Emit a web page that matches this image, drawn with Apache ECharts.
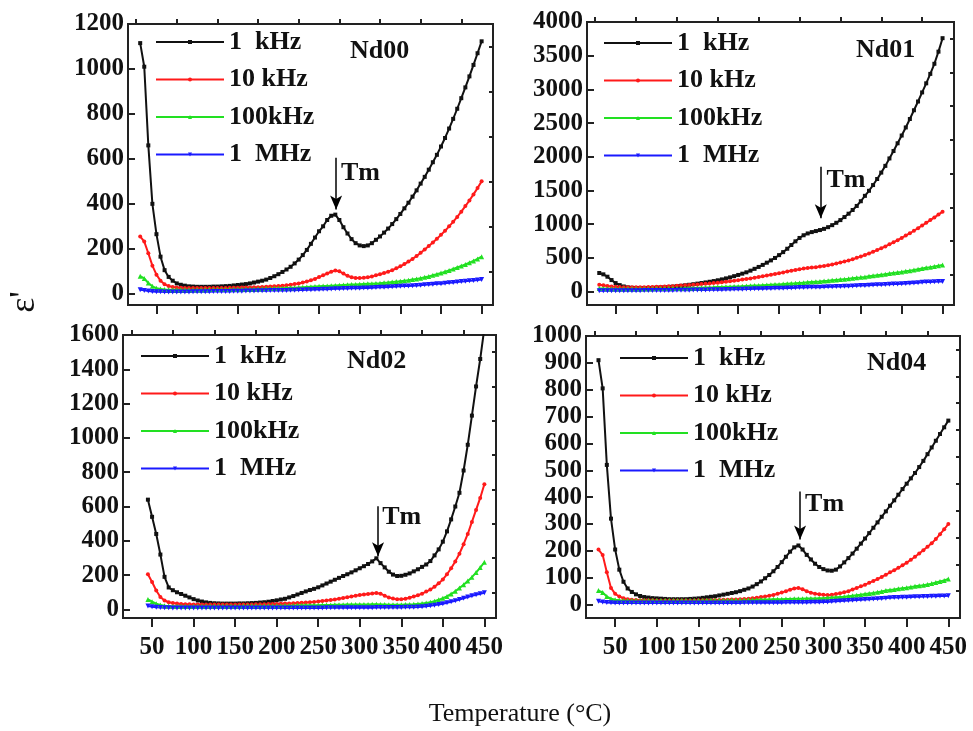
<!DOCTYPE html>
<html>
<head>
<meta charset="utf-8">
<script src="https://cdn.jsdelivr.net/npm/echarts@6/dist/echarts.min.js"></script>
<style>
  html, body { margin: 0; padding: 0; background: #fff; }
  #chart { width: 973px; height: 731px; }
</style>
</head>
<body>
<div id="chart"></div>
<script>
// Measurement temperatures (°C), shared by all four samples
const temps = [
  30, 35, 40, 45, 50, 55, 60, 65, 70, 75,
  80, 85, 90, 95, 100, 105, 110, 115, 120, 125,
  130, 135, 140, 145, 150, 155, 160, 165, 170, 175,
  180, 185, 190, 195, 200, 205, 210, 215, 220, 225,
  230, 235, 240, 245, 250, 255, 260, 265, 270, 275,
  280, 285, 290, 295, 300, 305, 310, 315, 320, 325,
  330, 335, 340, 345, 350, 355, 360, 365, 370, 375,
  380, 385, 390, 395, 400, 405, 410, 415, 420, 425,
  430, 435, 440, 445, 450
];

const frequencies = ['1  kHz', '10 kHz', '100kHz', '1  MHz'];

// Nd00
const nd00_1k = [
  1115, 1010, 660, 400, 265, 165, 105, 75, 58, 46,
  40, 36, 33, 32, 31, 31, 31, 31, 32, 32,
  33, 34, 35, 37, 39, 41, 43, 46, 50, 54,
  58, 63, 70, 78, 87, 97, 108, 120, 135, 152,
  172, 195, 222, 250, 278, 300, 328, 347, 352, 328,
  296, 268, 243, 225, 215, 212, 215, 225, 240, 255,
  272, 290, 310, 332, 355, 380, 405, 432, 460, 490,
  520, 552, 585, 618, 655, 693, 735, 778, 823, 870,
  918, 967, 1018, 1070, 1123
];
const nd00_10k = [
  255, 232, 180, 125, 85, 58, 42, 34, 30, 28,
  27, 26, 26, 26, 26, 26, 26, 26, 26, 26,
  26, 26, 27, 27, 27, 28, 28, 28, 29, 29,
  30, 31, 32, 33, 34, 36, 38, 40, 43, 46,
  50, 55, 60, 66, 74, 82, 90, 98, 103, 100,
  90, 80, 73, 70, 70, 71, 73, 77, 82, 87,
  92, 98, 105, 113, 122, 132, 143, 155, 168, 182,
  197, 212, 228, 245, 262, 280, 300, 320, 342, 365,
  390, 415, 442, 470, 500
];
const nd00_100k = [
  78, 68, 48, 33, 25, 21, 19, 18, 18, 18,
  18, 18, 18, 18, 18, 18, 18, 19, 19, 19,
  19, 19, 20, 20, 20, 20, 21, 21, 21, 22,
  22, 23, 23, 24, 25, 25, 26, 27, 27, 28,
  29, 30, 31, 32, 33, 34, 35, 36, 37, 38,
  39, 40, 41, 41, 42, 43, 44, 45, 46, 47,
  49, 50, 52, 54, 56, 58, 60, 63, 66, 69,
  73, 77, 82, 87, 92, 98, 104, 110, 117, 124,
  130, 138, 146, 155, 165
];
const nd00_1M = [
  18, 15, 12, 10, 9, 9, 8, 8, 8, 8,
  8, 8, 8, 9, 9, 9, 9, 9, 10, 10,
  10, 10, 10, 11, 11, 11, 12, 12, 12, 13,
  13, 13, 14, 14, 14, 15, 15, 16, 16, 17,
  17, 18, 18, 19, 19, 20, 20, 21, 22, 22,
  23, 23, 24, 24, 25, 26, 26, 27, 28, 29,
  29, 30, 31, 32, 33, 34, 35, 36, 37, 38,
  40, 41, 42, 44, 45, 47, 49, 50, 52, 54,
  56, 58, 59, 61, 63
];

// Nd01
const nd01_1k = [
  275, 255, 220, 170, 125, 95, 75, 62, 55, 52,
  50, 50, 52, 54, 57, 60, 64, 68, 73, 79,
  85, 92, 100, 108, 117, 126, 135, 145, 155, 167,
  180, 195, 210, 228, 246, 265, 285, 310, 337, 365,
  395, 428, 462, 498, 540, 585, 635, 690, 745, 795,
  835, 862, 882, 897, 912, 930, 955, 985, 1020, 1060,
  1105, 1155, 1210, 1270, 1340, 1420, 1495, 1580, 1670, 1765,
  1865, 1975, 2085, 2200, 2315, 2435, 2560, 2690, 2820, 2955,
  3090, 3230, 3380, 3560, 3760
];
const nd01_10k = [
  100, 92, 82, 75, 70, 66, 64, 62, 62, 62,
  63, 64, 66, 68, 70, 72, 75, 77, 80, 84,
  88, 92, 96, 100, 105, 110, 115, 120, 125, 131,
  138, 145, 152, 160, 168, 177, 186, 195, 205, 215,
  226, 237, 248, 260, 272, 284, 296, 308, 320, 330,
  340, 348, 355, 362, 370, 380, 390, 402, 415, 430,
  445, 462, 480, 500, 520, 542, 565, 590, 615, 642,
  670, 700, 730, 762, 795, 830, 865, 902, 940, 980,
  1020, 1060, 1100, 1142, 1185
];
const nd01_100k = [
  45, 44, 42, 41, 40, 40, 40, 40, 40, 41,
  41, 42, 42, 43, 44, 45, 46, 47, 48, 49,
  50, 51, 52, 54, 55, 57, 59, 61, 63, 66,
  68, 70, 72, 74, 76, 79, 82, 85, 88, 91,
  94, 97, 100, 103, 106, 110, 114, 118, 122, 127,
  132, 137, 142, 146, 150, 155, 160, 166, 172, 178,
  184, 190, 197, 204, 210, 217, 225, 233, 241, 250,
  258, 266, 275, 283, 290, 300, 310, 320, 330, 341,
  352, 362, 373, 384, 395
];
const nd01_1M = [
  12, 12, 12, 12, 12, 12, 13, 13, 13, 13,
  13, 14, 14, 14, 15, 15, 16, 16, 17, 18,
  18, 19, 20, 21, 22, 23, 24, 25, 26, 27,
  28, 29, 31, 32, 33, 35, 36, 38, 40, 42,
  43, 45, 46, 47, 48, 50, 52, 54, 56, 58,
  60, 62, 63, 64, 65, 67, 69, 71, 73, 75,
  77, 80, 82, 85, 88, 90, 93, 96, 99, 102,
  104, 107, 110, 113, 116, 120, 124, 128, 132, 136,
  140, 143, 146, 148, 150
];

// Nd02 (measured from 45 °C)
const nd02_1k = [
  null, null, null, 640, 540, 440, 320, 190, 128, 112,
  100, 90, 80, 70, 60, 52, 46, 41, 38, 36,
  35, 34, 34, 34, 34, 35, 35, 36, 37, 38,
  40, 42, 45, 49, 53, 58, 62, 70, 78, 87,
  96, 105, 113, 120, 129, 140, 151, 162, 173, 184,
  195, 205, 216, 228, 240, 252, 265, 280, 298, 270,
  245, 220, 203, 195, 196, 202, 210, 222, 234, 248,
  262, 282, 315, 350, 395, 455, 525, 600, 680, 810,
  960, 1130, 1300, 1460, 1640
];
const nd02_10k = [
  null, null, null, 205, 160, 110, 72, 52, 42, 37,
  34, 32, 30, 30, 29, 29, 28, 28, 28, 28,
  28, 28, 28, 28, 28, 28, 29, 29, 29, 30,
  30, 30, 31, 31, 32, 33, 34, 35, 36, 38,
  39, 40, 42, 44, 46, 49, 52, 55, 58, 62,
  66, 71, 76, 80, 84, 87, 90, 93, 96, 92,
  80, 70, 63, 60, 59, 62, 68, 75, 83, 92,
  104, 116, 132, 152, 175, 205, 240, 280, 325, 380,
  440, 510, 580, 650, 730
];
const nd02_100k = [
  null, null, null, 58, 45, 33, 26, 22, 20, 19,
  19, 19, 19, 19, 19, 19, 19, 20, 20, 20,
  20, 20, 20, 20, 20, 20, 21, 21, 21, 21,
  21, 22, 22, 22, 22, 22, 23, 23, 23, 24,
  24, 24, 25, 25, 25, 26, 26, 26, 27, 27,
  27, 28, 28, 28, 28, 29, 29, 30, 30, 29,
  28, 27, 27, 27, 27, 28, 29, 30, 32, 34,
  38, 42, 48, 56, 65, 76, 90, 106, 125, 144,
  165, 188, 215, 244, 275
];
const nd02_1M = [
  null, null, null, 20, 16, 13, 11, 10, 10, 9,
  9, 9, 9, 9, 9, 9, 9, 9, 9, 9,
  9, 9, 9, 9, 9, 9, 9, 9, 9, 9,
  9, 9, 9, 9, 9, 9, 9, 9, 9, 9,
  9, 9, 9, 9, 9, 9, 10, 10, 10, 10,
  10, 10, 10, 10, 10, 10, 10, 10, 11, 11,
  11, 11, 11, 11, 11, 12, 12, 13, 14, 16,
  18, 21, 25, 29, 33, 39, 45, 51, 58, 65,
  72, 79, 85, 91, 97
];

// Nd04
const nd04_1k = [
  910, 805, 520, 320, 205, 130, 85, 60, 47, 38,
  32, 28, 26, 24, 23, 22, 21, 20, 20, 20,
  20, 20, 21, 22, 23, 25, 27, 29, 31, 34,
  37, 40, 43, 46, 50, 55, 60, 67, 76, 86,
  98, 110, 124, 140, 158, 178, 197, 213, 220, 205,
  185, 168, 152, 140, 132, 127, 126, 130, 142, 157,
  173, 190, 208, 227, 246, 266, 286, 306, 327, 347,
  368, 388, 409, 430, 450, 470, 490, 512, 535, 560,
  585, 610, 635, 660, 685
];
const nd04_10k = [
  205, 185, 120, 62, 40, 30, 24, 20, 18, 17,
  16, 16, 16, 16, 15, 15, 15, 15, 15, 15,
  15, 15, 15, 15, 16, 16, 16, 16, 17, 17,
  18, 18, 19, 19, 20, 21, 22, 24, 25, 28,
  30, 33, 36, 40, 45, 50, 55, 60, 62, 57,
  50, 44, 40, 38, 37, 36, 37, 39, 42, 46,
  50, 56, 62, 68, 74, 81, 88, 95, 103, 111,
  120, 128, 137, 146, 156, 167, 178, 190, 202, 215,
  228, 244, 262, 280, 300
];
const nd04_100k = [
  52, 45, 30, 22, 18, 16, 15, 15, 15, 15,
  15, 15, 15, 15, 15, 15, 15, 15, 15, 15,
  15, 15, 15, 15, 15, 15, 16, 16, 16, 16,
  16, 16, 17, 17, 17, 17, 18, 18, 18, 19,
  19, 19, 20, 20, 20, 21, 21, 22, 22, 22,
  23, 23, 23, 24, 24, 25, 26, 27, 28, 29,
  31, 33, 35, 37, 39, 41, 43, 46, 49, 52,
  54, 56, 59, 61, 63, 65, 68, 70, 72, 75,
  78, 82, 86, 90, 95
];
const nd04_1M = [
  12, 10, 8, 7, 6, 6, 6, 6, 6, 6,
  6, 6, 6, 6, 6, 6, 6, 6, 6, 6,
  6, 6, 6, 6, 6, 6, 6, 6, 6, 6,
  6, 6, 6, 6, 6, 7, 7, 7, 7, 7,
  7, 7, 7, 7, 7, 8, 8, 8, 8, 8,
  8, 9, 9, 9, 10, 10, 11, 12, 13, 14,
  15, 16, 17, 18, 19, 20, 21, 22, 23, 24,
  25, 26, 26, 27, 27, 28, 29, 29, 30, 30,
  31, 31, 32, 32, 33
];

// Axis tick values
const xMajorTicks = [50, 100, 150, 200, 250, 300, 350, 400, 450];
const xMinorTicks = [25, 75, 125, 175, 225, 275, 325, 375, 425];
const yTicks00 = [0, 200, 400, 600, 800, 1000, 1200];
const yMinor00 = [100, 300, 500, 700, 900, 1100];
const yTicks01 = [0, 500, 1000, 1500, 2000, 2500, 3000, 3500, 4000];
const yMinor01 = [250, 750, 1250, 1750, 2250, 2750, 3250, 3750];
const yTicks02 = [0, 200, 400, 600, 800, 1000, 1200, 1400, 1600];
const yMinor02 = [100, 300, 500, 700, 900, 1100, 1300, 1500];
const yTicks04 = [0, 100, 200, 300, 400, 500, 600, 700, 800, 900, 1000];
const yMinor04 = [50, 150, 250, 350, 450, 550, 650, 750, 850, 950];

// Sample names and Tm arrow (temperature, arrow top, arrow tip)
const sampleNames = ['Nd00', 'Nd01', 'Nd02', 'Nd04'];
const tmMarks = [
  { t: 271, top: 605, tip: 375 },
  { t: 301, top: 1852, tip: 1087 },
  { t: 322, top: 601, tip: 310 },
  { t: 272, top: 421, tip: 242 }
];

const FONT = '"Liberation Serif", "Times New Roman", serif';
const INK = '#111';

const styles = [
  { color: '#111111', symbol: 'rect', size: 4, rotate: 0 },
  { color: '#ff1a1a', symbol: 'circle', size: 4, rotate: 0 },
  { color: '#22e022', symbol: 'triangle', size: 5, rotate: 0 },
  { color: '#1a1aff', symbol: 'triangle', size: 5, rotate: 180 }
];

// Layout of the 2x2 panels
const panels = [
  { values: [nd00_1k, nd00_10k, nd00_100k, nd00_1M], yMin: -50, yMax: 1200, yMajor: yTicks00, yMinor: yMinor00,
    grid: { left: 128, top: 24, width: 365, height: 281 }, xLabels: false,
    legend: { left: 155, top: 29 }, title: { left: 350, top: 38 }, tmText: [277, 538] },
  { values: [nd01_1k, nd01_10k, nd01_100k, nd01_1M], yMin: -200, yMax: 4000, yMajor: yTicks01, yMinor: yMinor01,
    grid: { left: 587, top: 22, width: 367, height: 283 }, xLabels: false,
    legend: { left: 603, top: 30 }, title: { left: 856, top: 37 }, tmText: [308, 1655] },
  { values: [nd02_1k, nd02_10k, nd02_100k, nd02_1M], yMin: -50, yMax: 1600, yMajor: yTicks02, yMinor: yMinor02,
    grid: { left: 123, top: 335, width: 373, height: 283 }, xLabels: true,
    legend: { left: 140, top: 343 }, title: { left: 347, top: 348 }, tmText: [327, 535] },
  { values: [nd04_1k, nd04_10k, nd04_100k, nd04_1M], yMin: -50, yMax: 1000, yMajor: yTicks04, yMinor: yMinor04,
    grid: { left: 586, top: 336, width: 374, height: 282 }, xLabels: true,
    legend: { left: 619, top: 345 }, title: { left: 867, top: 350 }, tmText: [278, 372] }
];

const plain = v => String(v);

const option = {
  animation: false,
  backgroundColor: '#fff',
  grid: [], xAxis: [], yAxis: [], series: [], legend: [], title: [],
  graphic: [
    { type: 'text', x: 520, y: 714,
      style: { text: 'Temperature (°C)', font: '26px ' + FONT, fill: INK, textAlign: 'center', textVerticalAlign: 'middle' } },
    { type: 'text', x: 25, y: 302, rotation: Math.PI / 2,
      style: { text: "ε'", font: '36px ' + FONT, fill: INK, textAlign: 'center', textVerticalAlign: 'middle' } }
  ]
};

panels.forEach((p, i) => {
  option.grid.push(Object.assign({ show: true, borderColor: '#222', borderWidth: 2, backgroundColor: 'transparent' }, p.grid));

  const xBase = { type: 'value', gridIndex: i, min: 15, max: 464,
    axisLine: { show: false, onZero: false }, splitLine: { show: false } };
  option.xAxis.push(Object.assign({}, xBase, {
    axisTick: { show: true, inside: false, length: 9, customValues: xMajorTicks, lineStyle: { color: '#222', width: 2 } },
    axisLabel: { show: p.xLabels, customValues: xMajorTicks, margin: 17, color: INK, formatter: plain,
      fontFamily: FONT, fontSize: 25, fontWeight: 'bold' }
  }));
  option.xAxis.push(Object.assign({}, xBase, {
    axisTick: { show: true, inside: false, length: 5, customValues: xMinorTicks, lineStyle: { color: '#222', width: 2 } },
    axisLabel: { show: false, customValues: xMinorTicks }
  }));

  const yBase = { type: 'value', gridIndex: i, min: p.yMin, max: p.yMax,
    axisLine: { show: false, onZero: false }, splitLine: { show: false } };
  option.yAxis.push(Object.assign({}, yBase, {
    axisTick: { show: true, inside: true, length: 7, customValues: p.yMajor, lineStyle: { color: '#222', width: 2 } },
    axisLabel: { show: true, customValues: p.yMajor, margin: 4, color: INK, formatter: plain,
      fontFamily: FONT, fontSize: 25, fontWeight: 'bold' }
  }));
  option.yAxis.push(Object.assign({}, yBase, {
    axisTick: { show: true, inside: true, length: 4, customValues: p.yMinor, lineStyle: { color: '#222', width: 2 } },
    axisLabel: { show: false, customValues: p.yMinor }
  }));

  p.values.forEach((vals, k) => {
    const st = styles[k];
    const data = [];
    temps.forEach((t, j) => { if (vals[j] !== null) data.push([t, vals[j]]); });
    const s = {
      type: 'line', name: frequencies[k], xAxisIndex: 2 * i, yAxisIndex: 2 * i,
      data: data, symbol: st.symbol, symbolSize: st.size, symbolRotate: st.rotate,
      showSymbol: true, itemStyle: { color: st.color }, lineStyle: { color: st.color, width: 2 },
      clip: true, z: 3
    };
    if (k === 0) {
      const tm = tmMarks[i];
      s.markLine = {
        silent: true, symbol: ['none', 'arrow'], symbolSize: [9, 14], animation: false,
        lineStyle: { color: '#000', width: 1.5, type: 'solid' }, label: { show: false },
        data: [[{ coord: [tm.t, tm.top] }, { coord: [tm.t, tm.tip] }]]
      };
      s.markPoint = {
        silent: true, symbol: 'circle', symbolSize: 0, animation: false,
        label: { show: true, formatter: 'Tm', position: 'right', distance: 0, color: INK,
          fontFamily: FONT, fontSize: 26, fontWeight: 'bold' },
        data: [{ coord: p.tmText }]
      };
    }
    option.series.push(s);
  });

  option.legend.push({
    data: frequencies, orient: 'vertical', left: p.legend.left, top: p.legend.top,
    itemWidth: 68, itemHeight: 5, itemGap: 11.5, padding: 0, selectedMode: false,
    textStyle: { color: INK, fontFamily: FONT, fontSize: 26, fontWeight: 'bold', lineHeight: 26 }
  });
  option.title.push({
    text: sampleNames[i], left: p.title.left, top: p.title.top, padding: 0,
    textStyle: { color: INK, fontFamily: FONT, fontSize: 26, fontWeight: 'bold', lineHeight: 26 }
  });
});

const chart = echarts.init(document.getElementById('chart'), null, { renderer: 'canvas' });
chart.setOption(option);
</script>
</body>
</html>
